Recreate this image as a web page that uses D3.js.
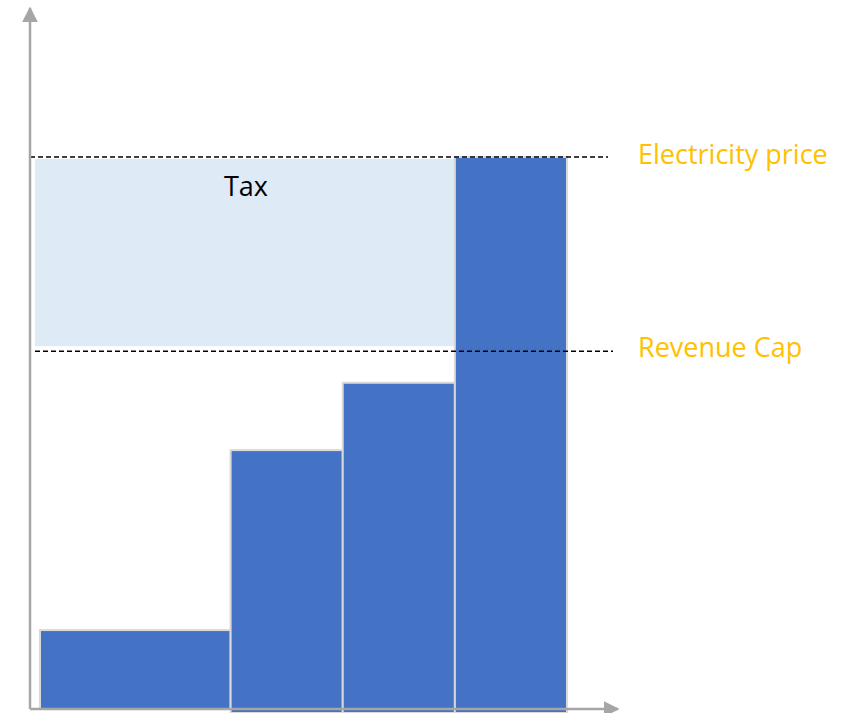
<!DOCTYPE html>
<html>
<head>
<meta charset="utf-8">
<script src="https://cdn.jsdelivr.net/npm/d3@7"></script>
<style>
  body { margin: 0; background: #fff; }
  svg text { font-family: "Open Sans", "Liberation Sans", sans-serif; }
</style>
</head>
<body>
<div id="chart"></div>
<script>
// merit order: width of each block (capacity) and its price
var blocks = ["A", "B", "C", "D"];
var capacity = [1.7, 1, 1, 1];
var price = [14.3, 46.9, 59.1, 100];
// reference levels
var levelNames = ["Electricity price", "Revenue Cap"];
var levelValues = [100, 65];
var taxLabel = "Tax";

var width = 861, height = 713;

var svg = d3.select("#chart")
  .append("svg")
    .attr("width", width)
    .attr("height", height);

// scales
var total = d3.sum(capacity);
var x = d3.scaleLinear()
  .domain([0, total])
  .range([40, 567]);
var y = d3.scaleLinear()
  .domain([0, 100])
  .range([709, 157]);

// cumulative start of each block
var starts = [];
var acc = 0;
for (var i = 0; i < capacity.length; i++) {
  starts.push(acc);
  acc += capacity[i];
}

// tax area between cap and price
svg.append("rect")
  .attr("x", 35)
  .attr("y", y(levelValues[0]) + 2)
  .attr("width", x(starts[3]) - 35)
  .attr("height", y(levelValues[1]) - y(levelValues[0]) - 6)
  .attr("fill", "#deeaf6");

svg.append("text")
  .attr("x", 246)
  .attr("y", 196)
  .attr("text-anchor", "middle")
  .style("font-size", "27px")
  .attr("fill", "#000")
  .text(taxLabel);

// bars
svg.selectAll("rect.bar")
  .data(blocks)
  .enter()
  .append("rect")
    .attr("class", "bar")
    .attr("x", function(d, i) { return x(starts[i]); })
    .attr("width", function(d, i) { return x(starts[i] + capacity[i]) - x(starts[i]); })
    .attr("y", function(d, i) { return y(price[i]); })
    .attr("height", function(d, i) { return (i == 0 ? y(0) : y(0) + 4) - y(price[i]); })
    .attr("fill", "#4472c4")
    .attr("stroke", "#d9d9d9")
    .attr("stroke-width", 2);

// dashed level lines
var lineX = [[30, 608], [35, 613]];
svg.selectAll("line.level")
  .data(levelValues)
  .enter()
  .append("line")
    .attr("class", "level")
    .attr("x1", function(d, i) { return lineX[i][0]; })
    .attr("x2", function(d, i) { return lineX[i][1]; })
    .attr("y1", function(d, i) { return y(d) + (i == 1 ? 1 : 0); })
    .attr("y2", function(d, i) { return y(d) + (i == 1 ? 1 : 0); })
    .attr("stroke", "#000")
    .attr("stroke-width", 1.5)
    .attr("stroke-dasharray", "5,3");

svg.selectAll("text.level")
  .data(levelNames)
  .enter()
  .append("text")
    .attr("class", "level")
    .attr("x", 638)
    .attr("y", function(d, i) { return y(levelValues[i]) + 7; })
    .style("font-size", "27px")
    .attr("fill", "#ffc000")
    .text(function(d) { return d; });

// axes with arrows
svg.append("defs").append("marker")
    .attr("id", "arrow")
    .attr("viewBox", "0 0 10 10")
    .attr("refX", 9)
    .attr("refY", 5)
    .attr("markerWidth", 16)
    .attr("markerHeight", 16)
    .attr("markerUnits", "userSpaceOnUse")
    .attr("orient", "auto")
  .append("path")
    .attr("d", "M0,0 L10,5 L0,10 Z")
    .attr("fill", "#a6a6a6");

svg.append("path")
  .attr("d", "M30,709 L30,8")
  .attr("stroke", "#a6a6a6")
  .attr("stroke-width", 2.5)
  .attr("fill", "none")
  .attr("marker-end", "url(#arrow)");

svg.append("path")
  .attr("d", "M30,709 L618,709")
  .attr("stroke", "#a6a6a6")
  .attr("stroke-width", 2.5)
  .attr("fill", "none")
  .attr("marker-end", "url(#arrow)");
</script>
</body>
</html>
